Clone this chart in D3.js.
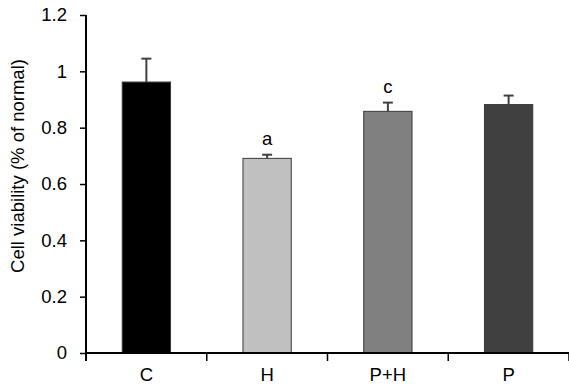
<!DOCTYPE html>
<html>
<head>
<meta charset="utf-8">
<script src="https://cdn.jsdelivr.net/npm/d3@7"></script>
<style>
  body { margin: 0; background: #fff; }
  text { font-family: "Liberation Sans", Arial, sans-serif; }
</style>
</head>
<body>
<div id="chart"></div>
<script>
// data
const groups = ["C", "H", "P+H", "P"];
const viability = [0.962, 0.691, 0.858, 0.882];
const errors = [0.083, 0.013, 0.031, 0.032];
const marks = ["", "a", "c", ""];
const barColors = ["#000000", "#c0c0c0", "#808080", "#404040"];
const yTicks = [0, 0.2, 0.4, 0.6, 0.8, 1, 1.2];

const W = 569, H = 386;
const margin = { top: 15, right: 0, bottom: 32, left: 86 };
const fs = "18.5px";

const svg = d3.select("#chart").append("svg")
    .attr("width", W)
    .attr("height", H);

const x = d3.scaleBand()
    .domain(groups)
    .range([margin.left, W - margin.right])
    .paddingInner(0.6)
    .paddingOuter(0.3);

const y = d3.scaleLinear()
    .domain([0, 1.2])
    .range([H - margin.bottom - 1, margin.top]);

// bars
svg.append("g")
    .selectAll("rect")
    .data(groups)
    .enter()
    .append("rect")
    .attr("x", d => x(d))
    .attr("width", x.bandwidth())
    .attr("y", (d, i) => y(viability[i]))
    .attr("height", (d, i) => y(0) - y(viability[i]))
    .attr("fill", (d, i) => barColors[i])
    .attr("stroke", "#3a3a3a")
    .attr("stroke-width", 1);

// error bars (upper only)
const err = svg.append("g")
    .attr("stroke", "#404040")
    .attr("stroke-width", 2);
groups.forEach((g, i) => {
    const cx = x(g) + x.bandwidth() / 2;
    err.append("line")
        .attr("x1", cx).attr("x2", cx)
        .attr("y1", y(viability[i])).attr("y2", y(viability[i] + errors[i]));
    err.append("line")
        .attr("x1", cx - 5).attr("x2", cx + 5)
        .attr("y1", y(viability[i] + errors[i])).attr("y2", y(viability[i] + errors[i]));
});

// significance letters
svg.append("g")
    .selectAll("text")
    .data(groups)
    .enter()
    .append("text")
    .attr("x", d => x(d) + x.bandwidth() / 2)
    .attr("y", (d, i) => y(viability[i] + errors[i]) - 10)
    .attr("text-anchor", "middle")
    .style("font-size", fs)
    .text((d, i) => marks[i]);

// y axis
const yAxis = svg.append("g")
    .attr("transform", "translate(" + margin.left + ",0)")
    .call(d3.axisLeft(y).tickValues(yTicks).tickSize(6).tickPadding(13)
        .tickFormat(d => d3.format("")(+d.toFixed(1))));
yAxis.attr("font-size", null).attr("font-family", null);
yAxis.select(".domain").attr("stroke-width", 2).attr("d", "M0," + (y(1.2)) + "V" + (y(0) + 8));
yAxis.selectAll(".tick line").attr("stroke-width", 1.5);
yAxis.selectAll("text").style("font-size", fs).attr("fill", "#000");

// x axis: ticks at group boundaries
const xb = d3.scaleLinear().domain([0, groups.length]).range([margin.left, W - margin.right]);
const xAxis = svg.append("g")
    .attr("transform", "translate(0," + y(0) + ")");
xAxis.append("line")
    .attr("x1", margin.left).attr("x2", W)
    .attr("stroke", "#000").attr("stroke-width", 2);
xAxis.selectAll(".bt")
    .data(d3.range(groups.length + 1))
    .enter()
    .append("line")
    .attr("class", "bt")
    .attr("x1", d => xb(d)).attr("x2", d => xb(d))
    .attr("y1", 0).attr("y2", 8)
    .attr("stroke", "#000").attr("stroke-width", 1.5);
xAxis.selectAll("text")
    .data(groups)
    .enter()
    .append("text")
    .attr("x", d => x(d) + x.bandwidth() / 2)
    .attr("y", 28)
    .attr("text-anchor", "middle")
    .style("font-size", fs)
    .text(d => d);

// y label
svg.append("text")
    .attr("transform", "translate(24,166) rotate(-90)")
    .attr("text-anchor", "middle")
    .style("font-size", "18.5px")
    .text("Cell viability (% of normal)");
</script>
</body>
</html>
